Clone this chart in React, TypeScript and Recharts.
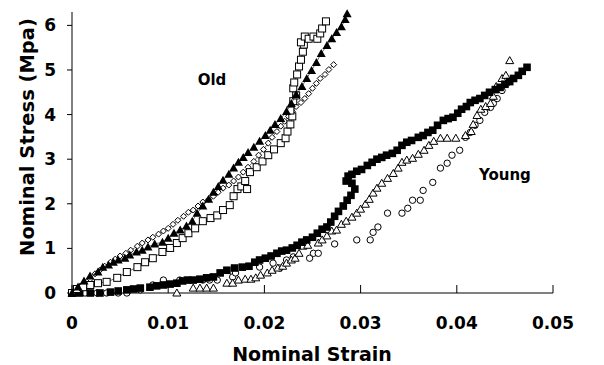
import React from 'react';
import { ScatterChart, Scatter, XAxis, YAxis, ReferenceDot } from 'recharts';

// strain (x) vs stress in MPa (y)
const oldTriangles: [number, number][] = [
  [0, 0], [0.000625, 0.134], [0.00125, 0.268], [0.001875, 0.38], [0.0027, 0.47], [0.0032, 0.58],
  [0.0038, 0.63], [0.0043, 0.69], [0.0048, 0.74], [0.0055, 0.78], [0.006, 0.85], [0.0067, 0.92],
  [0.0073, 0.96], [0.0079, 1.03], [0.0086, 1.1], [0.0094, 1.14], [0.01, 1.23], [0.0106, 1.34],
  [0.01125, 1.41], [0.0119, 1.5], [0.0125, 1.61], [0.013, 1.79], [0.0136, 1.95], [0.0142, 2.1],
  [0.0147, 2.26], [0.0152, 2.39], [0.0157, 2.53], [0.0163, 2.66], [0.0168, 2.8], [0.0173, 2.93],
  [0.0178, 3.04], [0.0183, 3.15], [0.0189, 3.27], [0.0195, 3.4], [0.0201, 3.53], [0.0206, 3.65],
  [0.0211, 3.78], [0.0217, 3.91], [0.0223, 4.07], [0.0228, 4.25], [0.0233, 4.45], [0.0239, 4.63],
  [0.0244, 4.81], [0.0249, 4.99], [0.0254, 5.17], [0.0259, 5.37], [0.0265, 5.55], [0.027, 5.7],
  [0.0275, 5.84], [0.028, 5.97], [0.0284, 6.13], [0.0286, 6.26],
];

const oldSquares: [number, number][] = [
  [0, 0], [0.00052, 0.09], [0.00115, 0.13], [0.0019, 0.18], [0.0027, 0.22], [0.0036, 0.25],
  [0.0047, 0.34], [0.0057, 0.47], [0.0068, 0.58], [0.0076, 0.69], [0.0084, 0.78], [0.0094, 0.92],
  [0.0102, 1.01], [0.0109, 1.12], [0.0115, 1.23], [0.0121, 1.34], [0.0128, 1.45], [0.0136, 1.61],
  [0.0144, 1.68], [0.0151, 1.74], [0.0157, 1.86], [0.0164, 1.97], [0.0168, 2.17], [0.0172, 2.33],
  [0.0176, 2.39], [0.0182, 2.33], [0.018, 2.51], [0.0185, 2.71], [0.0192, 2.82], [0.0198, 2.95],
  [0.0204, 3.09], [0.021, 3.22], [0.0217, 3.36], [0.0222, 3.47], [0.0224, 3.62], [0.0227, 3.78],
  [0.0229, 3.96], [0.0227, 4.09], [0.023, 4.3], [0.0233, 4.43], [0.023, 4.59], [0.0231, 4.72],
  [0.0234, 4.9], [0.0236, 5.08], [0.0238, 5.23], [0.024, 5.41], [0.0241, 5.57], [0.0238, 5.62],
  [0.0242, 5.75], [0.0246, 5.7], [0.0251, 5.75], [0.0255, 5.7], [0.0258, 5.82], [0.026, 5.93],
  [0.0264, 6.09],
];

const oldDiamonds: [number, number][] = [
  [0, 0], [0.0004, 0.067], [0.00083, 0.11], [0.00135, 0.2], [0.0019, 0.31], [0.0024, 0.43],
  [0.0029, 0.51], [0.0034, 0.6], [0.004, 0.69], [0.0045, 0.76], [0.005, 0.83], [0.0056, 0.89],
  [0.0061, 0.96], [0.0068, 1.05], [0.0073, 1.12], [0.0079, 1.19], [0.0084, 1.25], [0.009, 1.32],
  [0.0095, 1.39], [0.01, 1.45], [0.0105, 1.54], [0.011, 1.63], [0.0116, 1.72], [0.0121, 1.81],
  [0.0126, 1.86], [0.0131, 1.95], [0.0136, 2.04], [0.0142, 2.1], [0.0147, 2.17], [0.0152, 2.26],
  [0.0157, 2.35], [0.0163, 2.42], [0.0168, 2.51], [0.0173, 2.6], [0.0178, 2.71], [0.0183, 2.82],
  [0.0189, 2.95], [0.0194, 3.09], [0.0199, 3.22], [0.0204, 3.36], [0.0208, 3.49], [0.0213, 3.62],
  [0.0217, 3.74], [0.0221, 3.85], [0.0225, 3.96], [0.0229, 4.07], [0.0233, 4.18], [0.0238, 4.27],
  [0.0242, 4.36], [0.0246, 4.47], [0.025, 4.59], [0.0254, 4.7], [0.0258, 4.81], [0.0263, 4.9],
  [0.0267, 5.01], [0.0272, 5.12],
];

const youngSquares: [number, number][] = [
  [0, 0], [0.0008, 0], [0.0019, 0], [0.0029, 0], [0.004, 0.02], [0.0048, 0.045], [0.0057, 0.07],
  [0.0064, 0.09], [0.0071, 0.11], [0.0081, 0.13], [0.0088, 0.16], [0.0095, 0.18], [0.0102, 0.2],
  [0.0109, 0.22], [0.0115, 0.27], [0.012, 0.29], [0.0126, 0.29], [0.0133, 0.31], [0.014, 0.34],
  [0.0147, 0.36], [0.0154, 0.45], [0.0161, 0.51], [0.0169, 0.56], [0.0177, 0.58], [0.0184, 0.6],
  [0.019, 0.69], [0.0195, 0.74], [0.0201, 0.78], [0.0207, 0.83], [0.0213, 0.89], [0.0218, 0.94],
  [0.0223, 0.96], [0.0229, 1.01], [0.0234, 1.07], [0.0239, 1.14], [0.0244, 1.19], [0.025, 1.25],
  [0.0255, 1.34], [0.026, 1.43], [0.0265, 1.48], [0.0269, 1.59], [0.0273, 1.72], [0.0277, 1.83],
  [0.0282, 1.95], [0.0286, 2.08], [0.029, 2.19], [0.0294, 2.33], [0.0291, 2.46], [0.0285, 2.51],
  [0.0287, 2.62], [0.0291, 2.66], [0.0296, 2.73], [0.0301, 2.77], [0.0307, 2.86], [0.0312, 2.93],
  [0.0317, 3.0], [0.0322, 3.04], [0.0327, 3.09], [0.0333, 3.13], [0.0338, 3.2], [0.0343, 3.31],
  [0.0348, 3.38], [0.0353, 3.42], [0.036, 3.49], [0.0365, 3.53], [0.037, 3.6], [0.0375, 3.65],
  [0.038, 3.76], [0.0386, 3.87], [0.0391, 3.91], [0.0396, 3.94], [0.0401, 4.03], [0.0405, 4.12],
  [0.041, 4.18], [0.0414, 4.27], [0.0419, 4.32], [0.0424, 4.36], [0.0429, 4.43], [0.0434, 4.5],
  [0.044, 4.56], [0.0445, 4.61], [0.045, 4.68], [0.0455, 4.74], [0.0459, 4.81], [0.0464, 4.88],
  [0.0468, 4.97], [0.0473, 5.06],
];

const youngTriangles: [number, number][] = [
  [0.0109, 0], [0.0126, 0.11], [0.0133, 0.11], [0.014, 0.11], [0.0147, 0.11], [0.0161, 0.22],
  [0.0167, 0.22], [0.0173, 0.29], [0.018, 0.31], [0.0186, 0.31], [0.0191, 0.34], [0.0196, 0.4],
  [0.0203, 0.45], [0.0208, 0.51], [0.0214, 0.56], [0.0219, 0.6], [0.0223, 0.67], [0.0228, 0.74],
  [0.0232, 0.78], [0.0236, 0.89], [0.024, 1.05], [0.0245, 1.07], [0.0256, 1.12], [0.026, 1.19],
  [0.0265, 1.28], [0.027, 1.39], [0.0275, 1.41], [0.028, 1.54], [0.0285, 1.61], [0.0291, 1.7],
  [0.0296, 1.79], [0.03, 1.88], [0.0305, 1.99], [0.0309, 2.1], [0.0313, 2.24], [0.0317, 2.35],
  [0.0322, 2.46], [0.0328, 2.57], [0.0334, 2.68], [0.0339, 2.8], [0.0343, 2.93], [0.0348, 2.98],
  [0.0354, 3.02], [0.036, 3.11], [0.0366, 3.2], [0.0371, 3.31], [0.0376, 3.4], [0.0383, 3.47],
  [0.039, 3.47], [0.0399, 3.47], [0.0409, 3.53], [0.0415, 3.62], [0.0417, 3.78], [0.0421, 3.98],
  [0.0425, 4.12], [0.043, 4.18], [0.0435, 4.25], [0.0438, 4.41], [0.0441, 4.63], [0.0447, 4.81],
  [0.0451, 4.88], [0.0455, 5.21],
];

const youngCircles: [number, number][] = [
  [0, 0], [0.00135, 0], [0.0026, 0], [0.0036, 0], [0.0048, 0], [0.0057, 0], [0.0071, 0.07],
  [0.0084, 0.18], [0.0095, 0.29], [0.0112, 0.29], [0.0136, 0.29], [0.0143, 0.29], [0.0151, 0.29],
  [0.0167, 0.36], [0.017, 0.45], [0.0195, 0.58], [0.0209, 0.67], [0.0216, 0.56], [0.0223, 0.74],
  [0.023, 0.81], [0.0247, 0.78], [0.0251, 0.89], [0.0256, 0.89], [0.0273, 1.1], [0.0296, 1.19],
  [0.031, 1.19], [0.0313, 1.36], [0.0318, 1.48], [0.0328, 1.79], [0.0343, 1.79], [0.0349, 1.9],
  [0.0354, 2.08], [0.0362, 2.08], [0.0365, 2.3], [0.0375, 2.48], [0.0383, 2.8], [0.039, 2.91],
  [0.0395, 3.09], [0.0403, 3.2], [0.0409, 3.49], [0.0414, 3.6], [0.0419, 3.76], [0.0424, 3.87],
  [0.0429, 4.05], [0.0435, 4.16], [0.0438, 4.25], [0.0442, 4.36], [0.0447, 4.54], [0.0452, 4.7],
];

const xTicks = [0, 0.01, 0.02, 0.03, 0.04, 0.05];
const yTicks = [0, 1, 2, 3, 4, 5, 6];

const FONT = '"DejaVu Sans", Verdana, sans-serif';
const toPts = (arr: [number, number][]) => arr.map(([x, y]) => ({ x, y }));

// marker shapes
const FilledTri = (p: any) => (
  <path d={`M${p.cx},${p.cy - 4.5}L${p.cx + 4.5},${p.cy + 3.5}L${p.cx - 4.5},${p.cy + 3.5}Z`} fill="#000" />
);
const OpenTri = (p: any) => (
  <path d={`M${p.cx},${p.cy - 4}L${p.cx + 4},${p.cy + 3}L${p.cx - 4},${p.cy + 3}Z`} fill="#fff" stroke="#000" strokeWidth={1} />
);
const OpenSquare = (p: any) => (
  <rect x={p.cx - 3.5} y={p.cy - 3.5} width={7} height={7} fill="#fff" stroke="#000" strokeWidth={1} />
);
const FilledSquare = (p: any) => (
  <rect x={p.cx - 3.8} y={p.cy - 3.8} width={7.6} height={7.6} fill="#000" />
);
const OpenDiamond = (p: any) => (
  <path d={`M${p.cx},${p.cy - 3}L${p.cx + 3},${p.cy}L${p.cx},${p.cy + 3}L${p.cx - 3},${p.cy}Z`} fill="#fff" stroke="#000" strokeWidth={1} />
);
const OpenCircle = (p: any) => (
  <circle cx={p.cx} cy={p.cy} r={3.2} fill="#fff" stroke="#000" strokeWidth={1} />
);

const XTick = (p: any) => (
  <g>
    <line x1={p.x} x2={p.x} y1={p.y} y2={p.y - 8} stroke="#000" strokeWidth={1} />
    <text x={p.x} y={p.y + 36} textAnchor="middle" fontFamily={FONT} fontWeight="bold" fontSize={17} fill="#000">
      {p.payload.value}
    </text>
  </g>
);

const YTick = (p: any) => (
  <text x={p.x} y={p.y + 6} textAnchor="end" fontFamily={FONT} fontWeight="bold" fontSize={17} fill="#000">
    {p.payload.value}
  </text>
);

const textLabel = (txt: string) => (p: any) => (
  <text x={p.cx} y={p.cy} textAnchor="middle" dominantBaseline="central" fontFamily={FONT} fontWeight="bold" fontSize={15} fill="#000">
    {txt}
  </text>
);

const thinLine = { stroke: '#000', strokeWidth: 0.6 };

export default function App() {
  return (
    <div style={{ position: 'absolute', left: 0, top: 0, background: '#fff' }}>
      <ScatterChart width={604} height={365} margin={{ top: 12, right: 51, bottom: 0, left: 0 }}>
        <XAxis
          type="number"
          dataKey="x"
          domain={[0, 0.05]}
          ticks={xTicks}
          height={72}
          axisLine={{ stroke: '#000' }}
          tickLine={false}
          tickSize={0}
          tickMargin={0}
          tick={<XTick />}
          interval={0}
          label={{
            content: () => (
              <text x={312} y={361} textAnchor="middle" fontFamily={FONT} fontWeight="bold" fontSize={19} fill="#000">
                Nominal Strain
              </text>
            ),
          }}
        />
        <YAxis
          type="number"
          dataKey="y"
          domain={[0, 6.3]}
          ticks={yTicks}
          width={72}
          axisLine={{ stroke: '#000' }}
          tickLine={{ stroke: '#000' }}
          tickSize={5}
          tickMargin={11}
          tick={<YTick />}
          interval={0}
          label={{
            content: () => (
              <text
                x={27}
                y={137}
                transform="rotate(-90, 27, 137)"
                textAnchor="middle"
                dominantBaseline="central"
                fontFamily={FONT}
                fontWeight="bold"
                fontSize={19.5}
                fill="#000"
              >
                Nominal Stress (Mpa)
              </text>
            ),
          }}
        />
        <Scatter data={toPts(youngCircles)} shape={OpenCircle} isAnimationActive={false} />
        <Scatter data={toPts(youngTriangles)} shape={OpenTri} isAnimationActive={false} />
        <Scatter data={toPts(youngSquares)} shape={FilledSquare} isAnimationActive={false} />
        <Scatter data={toPts(oldDiamonds)} shape={OpenDiamond} line={thinLine} isAnimationActive={false} />
        <Scatter data={toPts(oldSquares)} shape={OpenSquare} line={thinLine} isAnimationActive={false} />
        <Scatter data={toPts(oldTriangles)} shape={FilledTri} line={thinLine} isAnimationActive={false} />
        <ReferenceDot x={0.01455} y={4.77} r={0} shape={textLabel('Old')} />
        <ReferenceDot x={0.045} y={2.64} r={0} shape={textLabel('Young')} />
      </ScatterChart>
    </div>
  );
}
